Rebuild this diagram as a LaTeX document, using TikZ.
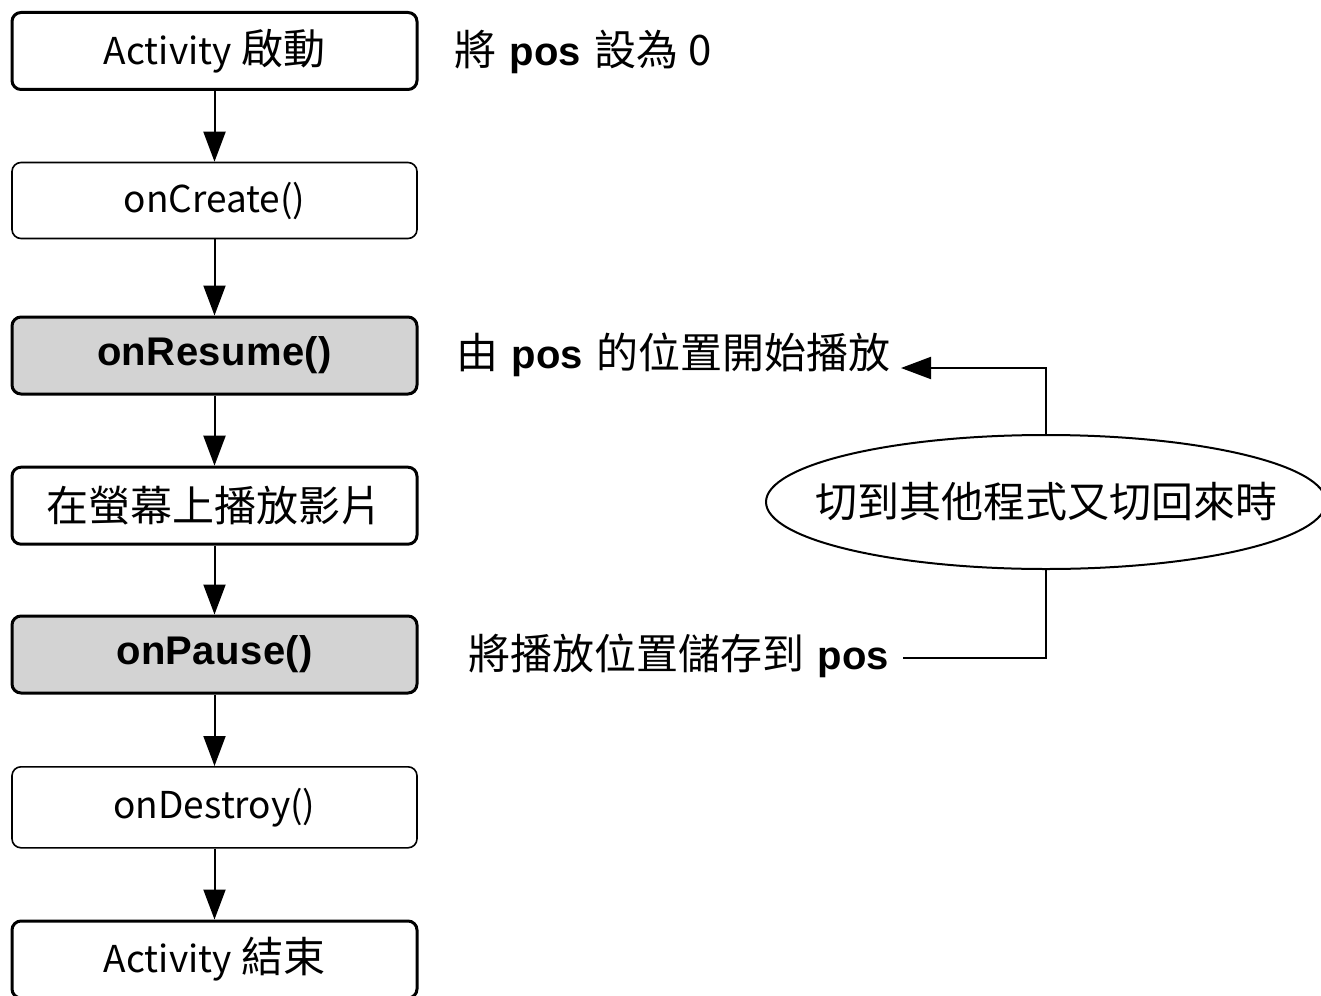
\documentclass[tikz,border=0pt]{standalone}
\usepackage{fontspec}
\setmainfont{Noto Sans CJK TC}
\newfontfamily\bfont{Liberation Sans}[LetterSpace=1]
\usetikzlibrary{shapes.geometric,arrows.meta}
\definecolor{boxgray}{HTML}{D3D3D3}
\newcommand{\bpos}{{\bfont\bfseries\fontsize{40}{48}\selectfont pos}}
\newcommand{\gap}{\hspace{13pt}}
\newcommand{\lat}[1]{{\fontsize{37}{44}\selectfont #1}}
\begin{document}
\begin{tikzpicture}[x=1pt,y=-1pt,
  box/.style={draw, rounded corners=9pt, minimum width=405pt, minimum height=77pt, inner sep=0pt, font=\fontsize{42}{50}\selectfont, line width=3pt},
  thinbox/.style={box, line width=1.6pt},
  graybox/.style={box, fill=boxgray, font=\bfont\bfseries\fontsize{40}{48}\selectfont},
  conn/.style={line width=2pt, -{Triangle[length=30pt,width=22pt]}},
  plain/.style={line width=2pt},
  side/.style={anchor=west, inner sep=0pt, font=\fontsize{42}{50}\selectfont},
  ]
\useasboundingbox (0,0) rectangle (1321,995);
\node[box] (a) at (214.5,51) {\lat{Activity} 啟動};
\node[thinbox, minimum height=76pt] (b) at (214.5,200.5) {\lat{onCreate()}};
\node[graybox] (c) at (214.5,355.5) {onResume()};
\node[box] (d) at (214.5,505.7) {在螢幕上播放影片};
\node[graybox] (e) at (214.5,654.5) {onPause()};
\node[thinbox, minimum height=81pt] (f) at (214.5,807.3) {\lat{onDestroy()}};
\node[box] (g) at (214.5,959.5) {\lat{Activity} 結束};
\draw[conn] (a) -- (b);
\draw[conn] (b) -- (c);
\draw[conn] (c) -- (d);
\draw[conn] (d) -- (e);
\draw[conn] (e) -- (f);
\draw[conn] (f) -- (g);
\node[side] (t1) at (454,52) {將\gap\bpos\gap 設為\hspace{10pt}0};
\node[side] (t2) at (456,355) {由\gap\bpos\gap 的位置開始播放};
\node[side] (t3) at (468,656) {將播放位置儲存到\gap\bpos};
\node[ellipse, draw, line width=2pt, minimum width=560pt, minimum height=134pt, inner sep=0pt, font=\fontsize{42}{50}\selectfont] (el) at (1046,502) {\makebox[0pt]{切到其他程式又切回來時}};
\coordinate (tipA) at (901,368);
\coordinate (endB) at (903,658);
\draw[conn] (el.north) |- (tipA);
\draw[plain] (el.south) |- (endB);
\end{tikzpicture}
\end{document}
